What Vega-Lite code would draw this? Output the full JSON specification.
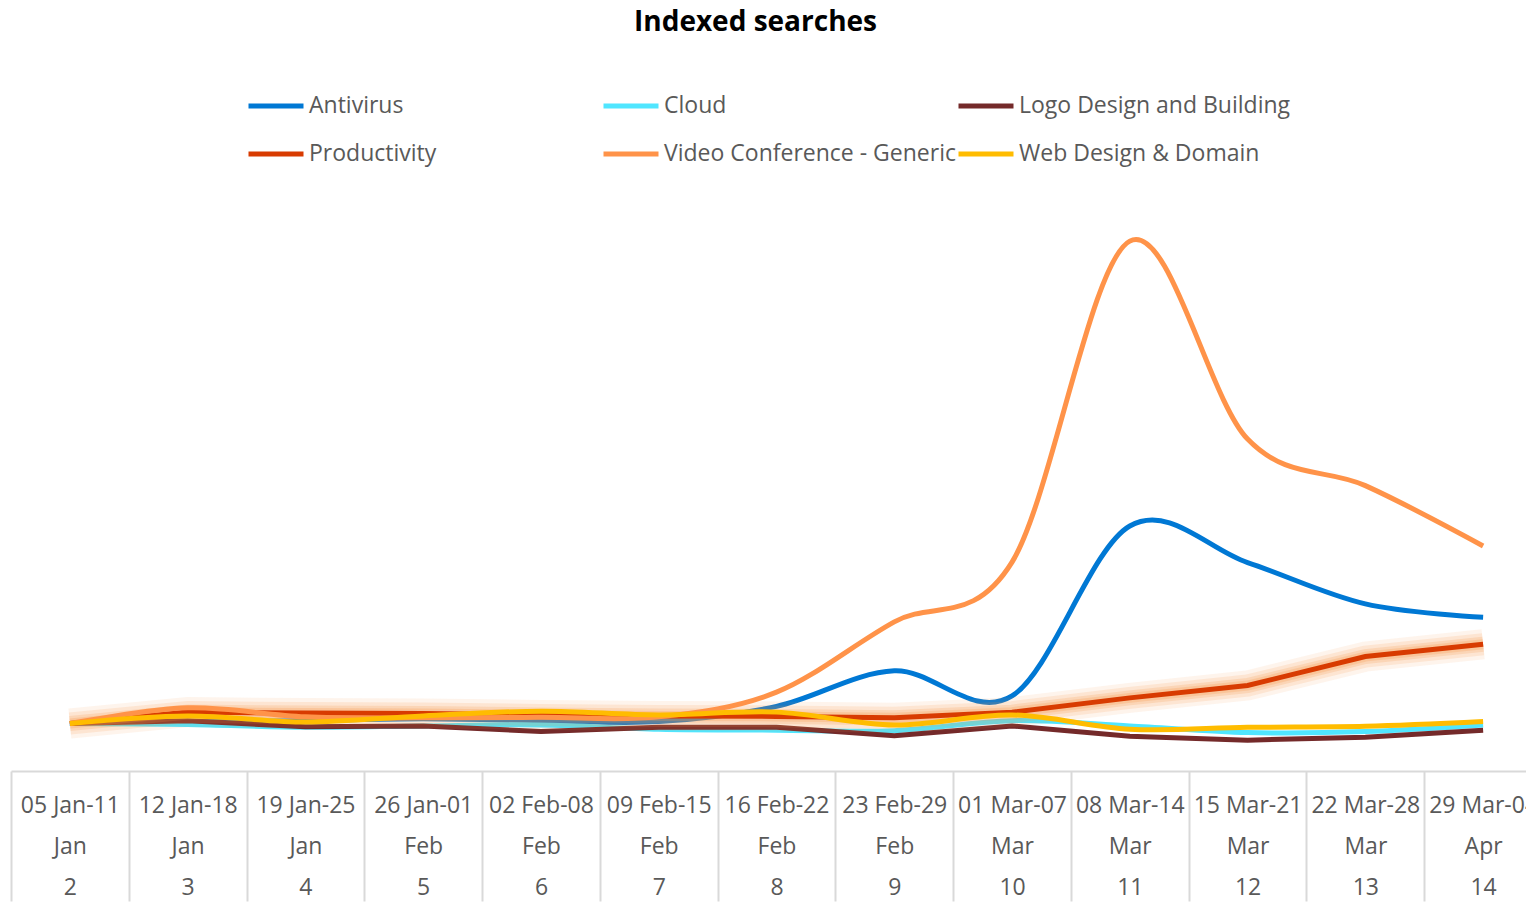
{
  "$schema": "https://vega.github.io/schema/vega-lite/v6.json",
  "width": 1531,
  "height": 622,
  "padding": 9,
  "title": {
    "text": "Indexed searches",
    "font": "Open Sans",
    "fontSize": 28,
    "fontWeight": "bold",
    "color": "#000000",
    "anchor": "middle",
    "offset": 39,
    "dx": -21
  },
  "config": {"view": {"stroke": null}},
  "data": {
    "values": [
      {"series": "Antivirus", "week": "2|05 Jan-11 Jan", "value": 100},
      {"series": "Antivirus", "week": "3|12 Jan-18 Jan", "value": 103},
      {"series": "Antivirus", "week": "4|19 Jan-25 Jan", "value": 106},
      {"series": "Antivirus", "week": "5|26 Jan-01 Feb", "value": 110},
      {"series": "Antivirus", "week": "6|02 Feb-08 Feb", "value": 106},
      {"series": "Antivirus", "week": "7|09 Feb-15 Feb", "value": 104},
      {"series": "Antivirus", "week": "8|16 Feb-22 Feb", "value": 136},
      {"series": "Antivirus", "week": "9|23 Feb-29 Feb", "value": 211},
      {"series": "Antivirus", "week": "10|01 Mar-07 Mar", "value": 158},
      {"series": "Antivirus", "week": "11|08 Mar-14 Mar", "value": 516},
      {"series": "Antivirus", "week": "12|15 Mar-21 Mar", "value": 439},
      {"series": "Antivirus", "week": "13|22 Mar-28 Mar", "value": 352},
      {"series": "Antivirus", "week": "14|29 Mar-04 Apr", "value": 324},
      {"series": "Cloud", "week": "2|05 Jan-11 Jan", "value": 100},
      {"series": "Cloud", "week": "3|12 Jan-18 Jan", "value": 98},
      {"series": "Cloud", "week": "4|19 Jan-25 Jan", "value": 92},
      {"series": "Cloud", "week": "5|26 Jan-01 Feb", "value": 95},
      {"series": "Cloud", "week": "6|02 Feb-08 Feb", "value": 97},
      {"series": "Cloud", "week": "7|09 Feb-15 Feb", "value": 88},
      {"series": "Cloud", "week": "8|16 Feb-22 Feb", "value": 86},
      {"series": "Cloud", "week": "9|23 Feb-29 Feb", "value": 85},
      {"series": "Cloud", "week": "10|01 Mar-07 Mar", "value": 106},
      {"series": "Cloud", "week": "11|08 Mar-14 Mar", "value": 95},
      {"series": "Cloud", "week": "12|15 Mar-21 Mar", "value": 81},
      {"series": "Cloud", "week": "13|22 Mar-28 Mar", "value": 83},
      {"series": "Cloud", "week": "14|29 Mar-04 Apr", "value": 97},
      {"series": "Logo Design and Building", "week": "2|05 Jan-11 Jan", "value": 100},
      {"series": "Logo Design and Building", "week": "3|12 Jan-18 Jan", "value": 106},
      {"series": "Logo Design and Building", "week": "4|19 Jan-25 Jan", "value": 93},
      {"series": "Logo Design and Building", "week": "5|26 Jan-01 Feb", "value": 95},
      {"series": "Logo Design and Building", "week": "6|02 Feb-08 Feb", "value": 83},
      {"series": "Logo Design and Building", "week": "7|09 Feb-15 Feb", "value": 92},
      {"series": "Logo Design and Building", "week": "8|16 Feb-22 Feb", "value": 92},
      {"series": "Logo Design and Building", "week": "9|23 Feb-29 Feb", "value": 74},
      {"series": "Logo Design and Building", "week": "10|01 Mar-07 Mar", "value": 95},
      {"series": "Logo Design and Building", "week": "11|08 Mar-14 Mar", "value": 73},
      {"series": "Logo Design and Building", "week": "12|15 Mar-21 Mar", "value": 65},
      {"series": "Logo Design and Building", "week": "13|22 Mar-28 Mar", "value": 71},
      {"series": "Logo Design and Building", "week": "14|29 Mar-04 Apr", "value": 86},
      {"series": "Productivity", "week": "2|05 Jan-11 Jan", "value": 100},
      {"series": "Productivity", "week": "3|12 Jan-18 Jan", "value": 124},
      {"series": "Productivity", "week": "4|19 Jan-25 Jan", "value": 122},
      {"series": "Productivity", "week": "5|26 Jan-01 Feb", "value": 121},
      {"series": "Productivity", "week": "6|02 Feb-08 Feb", "value": 118},
      {"series": "Productivity", "week": "7|09 Feb-15 Feb", "value": 116},
      {"series": "Productivity", "week": "8|16 Feb-22 Feb", "value": 115},
      {"series": "Productivity", "week": "9|23 Feb-29 Feb", "value": 112},
      {"series": "Productivity", "week": "10|01 Mar-07 Mar", "value": 124},
      {"series": "Productivity", "week": "11|08 Mar-14 Mar", "value": 154},
      {"series": "Productivity", "week": "12|15 Mar-21 Mar", "value": 180},
      {"series": "Productivity", "week": "13|22 Mar-28 Mar", "value": 241},
      {"series": "Productivity", "week": "14|29 Mar-04 Apr", "value": 267},
      {"series": "Video Conference - Generic", "week": "2|05 Jan-11 Jan", "value": 100},
      {"series": "Video Conference - Generic", "week": "3|12 Jan-18 Jan", "value": 133},
      {"series": "Video Conference - Generic", "week": "4|19 Jan-25 Jan", "value": 114},
      {"series": "Video Conference - Generic", "week": "5|26 Jan-01 Feb", "value": 112},
      {"series": "Video Conference - Generic", "week": "6|02 Feb-08 Feb", "value": 113},
      {"series": "Video Conference - Generic", "week": "7|09 Feb-15 Feb", "value": 114},
      {"series": "Video Conference - Generic", "week": "8|16 Feb-22 Feb", "value": 166},
      {"series": "Video Conference - Generic", "week": "9|23 Feb-29 Feb", "value": 314},
      {"series": "Video Conference - Generic", "week": "10|01 Mar-07 Mar", "value": 440},
      {"series": "Video Conference - Generic", "week": "11|08 Mar-14 Mar", "value": 1116},
      {"series": "Video Conference - Generic", "week": "12|15 Mar-21 Mar", "value": 699},
      {"series": "Video Conference - Generic", "week": "13|22 Mar-28 Mar", "value": 601},
      {"series": "Video Conference - Generic", "week": "14|29 Mar-04 Apr", "value": 474},
      {"series": "Web Design & Domain", "week": "2|05 Jan-11 Jan", "value": 100},
      {"series": "Web Design & Domain", "week": "3|12 Jan-18 Jan", "value": 116},
      {"series": "Web Design & Domain", "week": "4|19 Jan-25 Jan", "value": 103},
      {"series": "Web Design & Domain", "week": "5|26 Jan-01 Feb", "value": 116},
      {"series": "Web Design & Domain", "week": "6|02 Feb-08 Feb", "value": 126},
      {"series": "Web Design & Domain", "week": "7|09 Feb-15 Feb", "value": 118},
      {"series": "Web Design & Domain", "week": "8|16 Feb-22 Feb", "value": 124},
      {"series": "Web Design & Domain", "week": "9|23 Feb-29 Feb", "value": 97},
      {"series": "Web Design & Domain", "week": "10|01 Mar-07 Mar", "value": 118},
      {"series": "Web Design & Domain", "week": "11|08 Mar-14 Mar", "value": 88},
      {"series": "Web Design & Domain", "week": "12|15 Mar-21 Mar", "value": 92},
      {"series": "Web Design & Domain", "week": "13|22 Mar-28 Mar", "value": 94},
      {"series": "Web Design & Domain", "week": "14|29 Mar-04 Apr", "value": 104}
    ]
  },
  "encoding": {
    "x": {
      "field": "week",
      "type": "ordinal",
      "sort": ["2|05 Jan-11 Jan", "3|12 Jan-18 Jan", "4|19 Jan-25 Jan", "5|26 Jan-01 Feb", "6|02 Feb-08 Feb", "7|09 Feb-15 Feb", "8|16 Feb-22 Feb", "9|23 Feb-29 Feb", "10|01 Mar-07 Mar", "11|08 Mar-14 Mar", "12|15 Mar-21 Mar", "13|22 Mar-28 Mar", "14|29 Mar-04 Apr"],
      "scale": {"padding": 0.5},
      "axis": {
        "title": null,
        "grid": false,
        "domainColor": "#D9D9D9",
        "domainWidth": 2,
        "tickColor": "#D9D9D9",
        "tickWidth": 2,
        "tickSize": 130,
        "tickOffset": -58.88,
        "labelOffset": 58.88,
        "labelAngle": 0,
        "labelFont": "Open Sans",
        "labelFontSize": 23,
        "labelColor": "#595959",
        "labelBaseline": "top",
        "labelLineHeight": 41,
        "labelPadding": -107,
        "labelExpr": "[slice(split(datum.value, '|')[1], 0, 9), slice(split(datum.value, '|')[1], 10), split(datum.value, '|')[0]]"
      }
    },
    "y": {
      "field": "value",
      "type": "quantitative",
      "scale": {"domain": [0, 1310], "nice": false},
      "axis": null
    },
    "color": {
      "field": "series",
      "type": "nominal",
      "scale": {
        "domain": ["Antivirus", "Cloud", "Logo Design and Building", "Productivity", "Video Conference - Generic", "Web Design & Domain"],
        "range": ["#0078D4", "#50E6FF", "#742A2A", "#D83B01", "#FF9349", "#FFBC00"]
      },
      "legend": {
        "orient": "none",
        "legendX": 235,
        "legendY": -73,
        "direction": "horizontal",
        "columns": 3,
        "gridAlign": "all",
        "title": null,
        "symbolType": "stroke",
        "symbolSize": 3025,
        "symbolStrokeWidth": 5,
        "labelFont": "Open Sans",
        "labelFontSize": 23,
        "labelColor": "#595959",
        "labelOffset": 3,
        "labelLimit": 400,
        "columnPadding": -8,
        "rowPadding": 6
      }
    }
  },
  "layer": [
    {
      "transform": [{"filter": {"field": "series", "oneOf": ["Antivirus", "Cloud"]}}],
      "mark": {"type": "line", "interpolate": "cardinal", "strokeWidth": 5},
      "encoding": {}
    },
    {
      "transform": [{"filter": {"field": "series", "equal": "Logo Design and Building"}}],
      "mark": {"type": "line", "strokeWidth": 5},
      "encoding": {}
    },
    {
      "transform": [{"filter": {"field": "series", "equal": "Productivity"}}],
      "mark": {"type": "line", "strokeWidth": 30, "opacity": 0.1},
      "encoding": {"color": {"value": "#F79646"}}
    },
    {
      "transform": [{"filter": {"field": "series", "equal": "Productivity"}}],
      "mark": {"type": "line", "strokeWidth": 22, "opacity": 0.15},
      "encoding": {"color": {"value": "#F79646"}}
    },
    {
      "transform": [{"filter": {"field": "series", "equal": "Productivity"}}],
      "mark": {"type": "line", "strokeWidth": 15, "opacity": 0.2},
      "encoding": {"color": {"value": "#F79646"}}
    },
    {
      "transform": [{"filter": {"field": "series", "equal": "Productivity"}}],
      "mark": {"type": "line", "strokeWidth": 10, "opacity": 0.25},
      "encoding": {"color": {"value": "#F79646"}}
    },
    {
      "transform": [{"filter": {"field": "series", "equal": "Productivity"}}],
      "mark": {"type": "line", "strokeWidth": 5},
      "encoding": {}
    },
    {
      "transform": [{"filter": {"field": "series", "oneOf": ["Video Conference - Generic", "Web Design & Domain"]}}],
      "mark": {"type": "line", "interpolate": "cardinal", "strokeWidth": 5},
      "encoding": {}
    }
  ]
}
